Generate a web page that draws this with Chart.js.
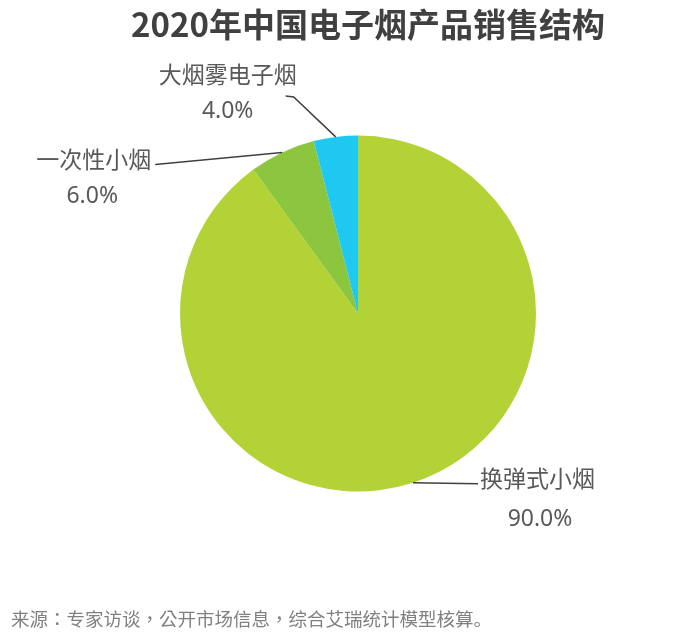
<!DOCTYPE html>
<html>
<head>
<meta charset="utf-8">
<script src="https://cdn.jsdelivr.net/npm/chart.js@4/dist/chart.umd.min.js"></script>
<style>
  html, body { margin: 0; padding: 0; background: #fff; }
  #wrap { position: relative; width: 700px; height: 638px; overflow: hidden; }
  #title { position: absolute; left: 0; width: 736px; top: 2px; text-align: center;
    font-family: "Noto Sans CJK SC", sans-serif; font-weight: bold; font-size: 33px; color: #404040; line-height: 42px; }
  #source { position: absolute; left: 11px; top: 605px; font-family: "Noto Sans CJK TC", "Noto Sans CJK SC", sans-serif;
    font-size: 18.5px; color: #808080; line-height: 26px; }
  #source .sc { font-family: "Noto Sans CJK SC", sans-serif; }
  canvas { position: absolute; left: 0; top: 0; }
</style>
</head>
<body>
<div id="wrap">
  <canvas id="c" width="700" height="638"></canvas>
  <div id="title">2020年中国电子烟产品销售结构</div>
  <div id="source">来源：专家访谈，公开市场信息，综合艾瑞统计模型核算<span class="sc">。</span></div>
</div>
<script>
const categories = ['换弹式小烟', '一次性小烟', '大烟雾电子烟'];
const shares = [90.0, 6.0, 4.0];
const sliceColors = ['#b3d235', '#8cc63f', '#1fc8f1'];

// label layout (offsets from the slice's mid-angle edge point)
const labelLayout = [
  { line: [[65, 1]], name: { dx: 67, dy: -5, align: 'left' }, pct: { dx: 127, dy: 37 } },
  { line: [[-127, 12]], name: { dx: -131, dy: 7, align: 'right' }, pct: { dx: -190, dy: 44 } },
  { line: [[-42, -40], [-50, -41]], name: { dx: -108, dy: -63, align: 'center' }, pct: { dx: -108, dy: -25 } }
];

const labelPlugin = {
  id: 'sliceLabels',
  afterDraw(chart) {
    const ctx = chart.ctx;
    const meta = chart.getDatasetMeta(0);
    meta.data.forEach((arc, i) => {
      const p = arc.getProps(['x', 'y', 'startAngle', 'endAngle', 'outerRadius'], true);
      const mid = (p.startAngle + p.endAngle) / 2;
      const ex = p.x + Math.cos(mid) * p.outerRadius;
      const ey = p.y + Math.sin(mid) * p.outerRadius;
      const L = labelLayout[i];
      ctx.save();
      ctx.strokeStyle = '#404040';
      ctx.lineWidth = 1.5;
      ctx.beginPath();
      ctx.moveTo(ex, ey);
      L.line.forEach(pt => ctx.lineTo(ex + pt[0], ey + pt[1]));
      ctx.stroke();
      ctx.fillStyle = '#595959';
      ctx.textBaseline = 'middle';
      ctx.font = '23px "Noto Sans CJK SC", sans-serif';
      ctx.textAlign = L.name.align;
      ctx.fillText(categories[i], ex + L.name.dx, ey + L.name.dy);
      ctx.textAlign = 'center';
      ctx.font = '23px "Noto Sans", "Noto Sans CJK SC", sans-serif';
      ctx.fillText(shares[i].toFixed(1) + '%', ex + L.pct.dx, ey + L.pct.dy);
      ctx.restore();
    });
  }
};

new Chart(document.getElementById('c'), {
  type: 'pie',
  data: {
    labels: categories,
    datasets: [{
      data: shares,
      backgroundColor: sliceColors,
      borderWidth: 0
    }]
  },
  options: {
    responsive: false,
    animation: false,
    devicePixelRatio: 1,
    layout: { padding: { left: 180, right: 164, top: 135.5, bottom: 146.5 } },
    plugins: {
      legend: { display: false },
      tooltip: { enabled: false },
      title: { display: false }
    }
  },
  plugins: [labelPlugin]
});
</script>
</body>
</html>
